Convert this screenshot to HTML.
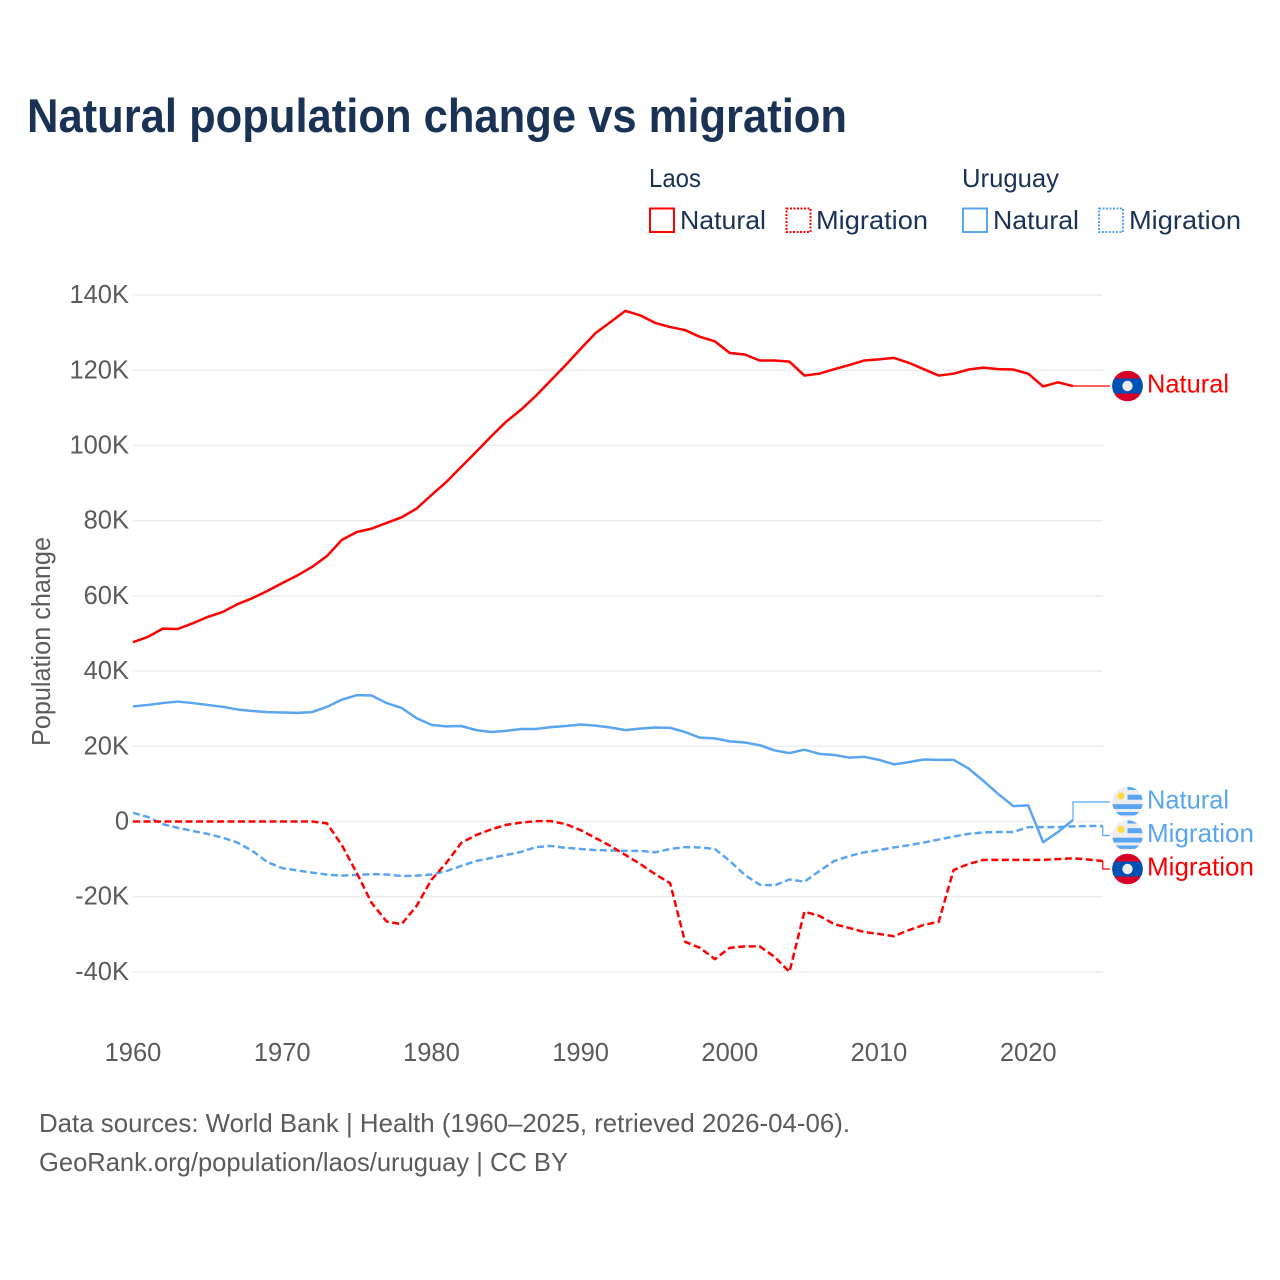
<!DOCTYPE html>
<html lang="en">
<head>
<meta charset="utf-8">
<title>Natural population change vs migration</title>
<style>
html,body{margin:0;padding:0;background:#fff;}
svg{display:block;font-family:"Liberation Sans",sans-serif;}
</style>
</head>
<body>
<svg id="chart" xmlns="http://www.w3.org/2000/svg" width="1280" height="1280" viewBox="0 0 1280 1280">
  <defs>
    <clipPath id="flag-clip"><circle cx="0" cy="0" r="15.3"/></clipPath>
    <g id="flag-laos">
      <g clip-path="url(#flag-clip)">
        <rect x="-16" y="-16" width="32" height="32" fill="#d80027"/>
        <rect x="-16" y="-7.5" width="32" height="15" fill="#0052b4"/>
        <circle cx="0" cy="0" r="5.2" fill="#eeeeee"/>
      </g>
    </g>
    <g id="flag-uruguay">
      <g clip-path="url(#flag-clip)">
        <rect x="-16" y="-16" width="32" height="32" fill="#eeeeee"/>
        <rect x="0" y="-16" width="16" height="4" fill="#5aa5f0"/>
        <rect x="0" y="-7.3" width="16" height="5" fill="#5aa5f0"/>
        <rect x="-16" y="2.2" width="32" height="4.8" fill="#5aa5f0"/>
        <rect x="-16" y="10" width="32" height="3.4" fill="#5aa5f0"/>
        <circle cx="-6.5" cy="-6" r="3.6" fill="#ffda44"/>
      </g>
    </g>
  </defs>

  <text x="27" y="132" font-size="47" font-weight="700" fill="#1a3355" textLength="820" lengthAdjust="spacingAndGlyphs">Natural population change vs migration</text>

  <g fill="#1a3355" font-size="26">
    <text x="649" y="187" textLength="52" lengthAdjust="spacingAndGlyphs">Laos</text>
    <text x="962" y="187" textLength="97" lengthAdjust="spacingAndGlyphs">Uruguay</text>
    <g>
      <rect x="650" y="208.5" width="24" height="23.5" fill="none" stroke="#ff0000" stroke-width="2"/>
      <text x="680" y="229" textLength="86" lengthAdjust="spacingAndGlyphs">Natural</text>
    </g>
    <g>
      <rect x="786.5" y="208.5" width="24" height="23.5" fill="none" stroke="#ff0000" stroke-width="2" stroke-dasharray="2 1.5"/>
      <text x="816" y="229" textLength="112" lengthAdjust="spacingAndGlyphs">Migration</text>
    </g>
    <g>
      <rect x="963" y="208.5" width="24" height="23.5" fill="none" stroke="#5aa5f0" stroke-width="2"/>
      <text x="993" y="229" textLength="86" lengthAdjust="spacingAndGlyphs">Natural</text>
    </g>
    <g>
      <rect x="1099" y="208.5" width="24" height="23.5" fill="none" stroke="#5aa5f0" stroke-width="2" stroke-dasharray="2 1.5"/>
      <text x="1129" y="229" textLength="112" lengthAdjust="spacingAndGlyphs">Migration</text>
    </g>
  </g>

  <g id="grid"></g>
  <g id="y-ticks" fill="#5b5b5b" font-size="25.5" text-anchor="end"></g>
  <g id="x-ticks" fill="#5b5b5b" font-size="25.5" text-anchor="middle"></g>
  <text transform="translate(50 746) rotate(-90)" fill="#5b5b5b" font-size="25.5" textLength="209" lengthAdjust="spacingAndGlyphs">Population change</text>

  <g id="series"></g>
  <g id="end-labels" font-size="26"></g>

  <g fill="#5b5b5b" font-size="26">
    <text x="39" y="1132" textLength="811" lengthAdjust="spacingAndGlyphs">Data sources: World Bank | Health (1960–2025, retrieved 2026-04-06).</text>
    <text x="39" y="1171" textLength="529" lengthAdjust="spacingAndGlyphs">GeoRank.org/population/laos/uruguay | CC BY</text>
  </g>
</svg>

<script>
const startYear = 1960;
const xTickYears = [1960, 1970, 1980, 1990, 2000, 2010, 2020];
const yTickValues = [140, 120, 100, 80, 60, 40, 20, 0, -20, -40];

// Population change, thousands, one value per year from 1960.
const laosNatural = [47.7,49.1,51.3,51.2,52.7,54.4,55.7,57.8,59.4,61.3,63.4,65.4,67.7,70.6,74.9,77.0,77.9,79.4,80.9,83.2,86.8,90.3,94.3,98.3,102.4,106.3,109.5,113.2,117.3,121.4,125.7,129.9,132.8,135.8,134.6,132.6,131.5,130.7,128.9,127.7,124.6,124.2,122.6,122.6,122.3,118.6,119.1,120.3,121.4,122.6,122.9,123.3,122.0,120.3,118.6,119.1,120.2,120.7,120.3,120.2,119.1,115.7,116.8,115.8];
const uruguayNatural = [30.6,31.0,31.5,31.9,31.5,31.0,30.5,29.8,29.4,29.1,29.0,28.9,29.1,30.5,32.4,33.6,33.5,31.5,30.2,27.5,25.7,25.3,25.4,24.3,23.8,24.1,24.6,24.6,25.1,25.4,25.8,25.5,25.0,24.3,24.7,25.0,24.9,23.8,22.3,22.1,21.3,21.0,20.3,18.9,18.2,19.1,18.0,17.7,17.0,17.2,16.4,15.2,15.8,16.5,16.4,16.4,14.1,10.8,7.3,4.1,4.3,-5.5,-2.8,0.4];
const laosMigration = [0,0,0,0,0,0,0,0,0,0,0,0,0,-0.5,-6.3,-13.7,-21.7,-26.6,-27.3,-22.5,-15.5,-11.0,-5.7,-3.6,-2.1,-0.9,-0.3,0.1,0.1,-0.7,-2.3,-4.4,-6.5,-8.9,-11.3,-14.0,-16.4,-32.0,-33.6,-36.6,-33.6,-33.2,-33.2,-36.0,-40.0,-24.0,-25.1,-27.3,-28.3,-29.4,-29.9,-30.5,-28.9,-27.5,-26.7,-12.9,-11.3,-10.2,-10.2,-10.2,-10.2,-10.2,-10.0,-9.8,-10.1,-10.5];
const uruguayMigration = [2.3,1.2,-0.7,-1.7,-2.5,-3.3,-4.3,-5.6,-7.8,-10.8,-12.4,-13.0,-13.6,-14.1,-14.4,-14.2,-14.0,-14.1,-14.5,-14.4,-14.1,-13.2,-11.8,-10.5,-9.7,-8.9,-8.1,-6.8,-6.5,-7.0,-7.3,-7.6,-7.7,-7.8,-7.8,-8.2,-7.3,-6.8,-6.9,-7.3,-10.5,-14.2,-16.8,-17.0,-15.4,-16.0,-13.2,-10.5,-9.2,-8.2,-7.6,-6.9,-6.3,-5.6,-4.8,-4.0,-3.3,-2.9,-2.8,-2.8,-1.5,-1.5,-1.5,-1.3,-1.2,-1.2];

const RED = '#ff0000';
const BLUE = '#5aa5f0';
const SVGNS = 'http://www.w3.org/2000/svg';

function xScale(year) { return 133 + (year - 1960) * 14.92; }
function yScale(v) { return 821.5 - v * 3.76; }
function make(tag, attrs, parent) {
  const el = document.createElementNS(SVGNS, tag);
  for (const k in attrs) el.setAttribute(k, attrs[k]);
  parent.appendChild(el);
  return el;
}
function fmt(v) { return v === 0 ? '0' : v + 'K'; }
function linePath(values) {
  return values.map((v, i) => (i ? 'L' : 'M') + xScale(startYear + i).toFixed(2) + ' ' + yScale(v).toFixed(2)).join(' ');
}

const gridG = document.getElementById('grid');
const yG = document.getElementById('y-ticks');
const xG = document.getElementById('x-ticks');
const seriesG = document.getElementById('series');
const endG = document.getElementById('end-labels');

yTickValues.forEach(v => {
  const ln = make('line', {x1: 133, x2: xScale(2025), y1: yScale(v), y2: yScale(v), stroke: '#ededed', 'stroke-width': 1.5}, gridG);
  
  
  const t = make('text', {x: 129, y: yScale(v) + 8}, yG);
  
  
  t.textContent = fmt(v);
});

xTickYears.forEach(y => {
  const t = make('text', {x: xScale(y), y: 1061}, xG);
  
  
  t.textContent = y;
});

const lineStyles = [
  {values: uruguayMigration, color: BLUE, dash: '7 3.5', name: 'line-uruguay-migration'},
  {values: laosMigration, color: RED, dash: '7 3.5', name: 'line-laos-migration'},
  {values: uruguayNatural, color: BLUE, dash: '', name: 'line-uruguay-natural'},
  {values: laosNatural, color: RED, dash: '', name: 'line-laos-natural'}
];
lineStyles.forEach(s => {
  const p = make('path', {d: linePath(s.values), fill: 'none', stroke: s.color, 'stroke-width': 2.5, 'stroke-linejoin': 'round'}, seriesG);
  if (s.dash) p.setAttribute('stroke-dasharray', s.dash);
  
  
});

const endEntries = [
  {values: laosNatural, color: RED, flag: 'flag-laos', label: 'Natural', width: 82, labelY: 386, name: 'laos-natural'},
  {values: uruguayNatural, color: BLUE, flag: 'flag-uruguay', label: 'Natural', width: 82, labelY: 802, name: 'uruguay-natural'},
  {values: uruguayMigration, color: BLUE, flag: 'flag-uruguay', label: 'Migration', width: 107, labelY: 835.5, name: 'uruguay-migration'},
  {values: laosMigration, color: RED, flag: 'flag-laos', label: 'Migration', width: 107, labelY: 869, name: 'laos-migration'}
];
endEntries.forEach(e => {
  const n = e.values.length - 1;
  const sx = xScale(startYear + n);
  const sy = yScale(e.values[n]);
  const c = make('path', {d: 'M' + sx + ' ' + sy + ' V' + e.labelY + ' H1110', fill: 'none', stroke: e.color, 'stroke-width': 1.2}, endG);
  
  
  const f = make('use', {href: '#' + e.flag, x: 1127.5, y: e.labelY}, endG);
  
  
  const t = make('text', {x: 1147, y: e.labelY + 6.5, fill: e.color, textLength: e.width, lengthAdjust: 'spacingAndGlyphs'}, endG);
  
  
  t.textContent = e.label;
});
</script>
</body>
</html>
